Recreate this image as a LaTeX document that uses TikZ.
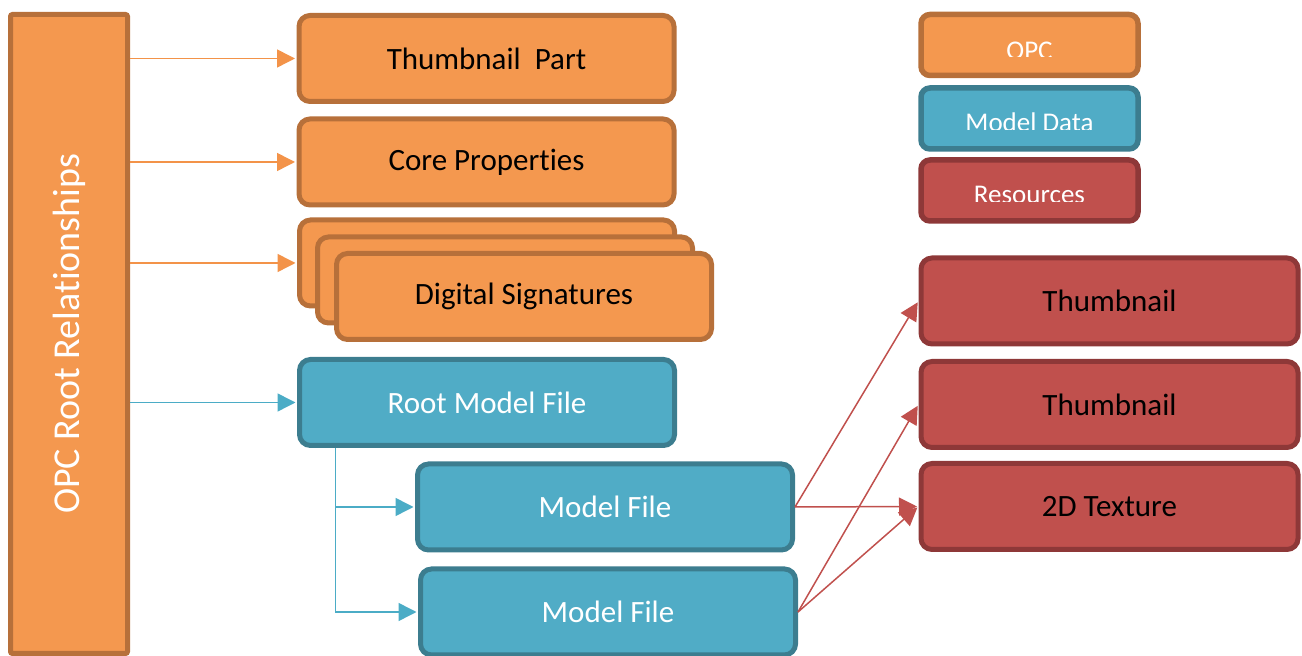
\documentclass[tikz,border=0pt]{standalone}
\usepackage{fontspec}
\setmainfont{Carlito}[Ligatures={NoCommon,NoRare}]
\usetikzlibrary{arrows.meta}
\definecolor{orfill}{HTML}{F4984F}
\definecolor{ordraw}{HTML}{B7703A}
\definecolor{orline}{HTML}{F39349}
\definecolor{blfill}{HTML}{50ACC6}
\definecolor{bldraw}{HTML}{3C7D8F}
\definecolor{blline}{HTML}{4BACC6}
\definecolor{rdfill}{HTML}{C0504D}
\definecolor{rddraw}{HTML}{8E3838}
\definecolor{rdline}{HTML}{C0504D}
\begin{document}
\begin{tikzpicture}[x=1pt,y=1pt,
  box/.style={rounded corners=11pt, line width=5pt, minimum width=375pt,
    minimum height=86pt, inner sep=0pt, font=\fontsize{31}{37}\selectfont},
  opcbox/.style={box, fill=orfill, draw=ordraw, text=black},
  mdlbox/.style={box, fill=blfill, draw=bldraw, text=white},
  resbox/.style={box, fill=rdfill, draw=rddraw, text=black, minimum width=377pt},
  legbox/.style={rounded corners=9pt, line width=5.5pt, minimum width=217pt,
    minimum height=61pt, inner sep=0pt},
  legtext/.style={anchor=base, text=white, inner sep=0pt, font=\fontsize{27}{32}\selectfont},
  conn/.style={line width=1.5pt, -{Triangle[length=18pt,width=18pt]}, shorten >=1.5pt},
]
\useasboundingbox (0,0) rectangle (1302,656);

% left bar (rotated: its south side faces right)
\node[fill=orfill, draw=ordraw, line width=5pt, rounded corners=2pt,
  minimum width=639pt, minimum height=117pt, inner sep=0pt,
  text=white, rotate=90, font=\fontsize{38}{44}\selectfont]
  (bar) at (69,322) {OPC Root Relationships};

% OPC parts
\node[opcbox] (tp) at (486.5,597.5) {Thumbnail~~Part};
\node[opcbox] (cp) at (486.5,494) {Core Properties};
\node[opcbox] (ds1) at (487,393) {};
\node[opcbox] (ds2) at (505,376) {};
\node[opcbox] (ds3) at (524,359.5) {Digital Signatures};

% model data
\node[mdlbox] (rmf) at (487,253.5) {Root Model File};
\node[mdlbox] (mf1) at (605,149) {Model File};
\node[mdlbox] (mf2) at (608,44) {Model File};

% resources
\node[resbox] (r1) at (1109.5,355) {Thumbnail};
\node[resbox] (r2) at (1109.5,251.5) {Thumbnail};
\node[resbox] (r3) at (1109.5,149.5) {2D Texture};

% legend
\node[legbox, fill=orfill, draw=ordraw] (lg1) at (1029.5,611) {};
\node[legbox, fill=blfill, draw=bldraw] (lg2) at (1029.5,537.5) {};
\node[legbox, fill=rdfill, draw=rddraw] (lg3) at (1029.5,465.5) {};
\begin{scope}
  \clip (918,599) rectangle (1141,656);
  \node[legtext] (lt1) at (1029.5,596) {OPC};
\end{scope}
\begin{scope}
  \clip (918,526.5) rectangle (1141,580);
  \node[legtext] (lt2) at (1029.5,524.5) {Model Data};
\end{scope}
\begin{scope}
  \clip (918,454.5) rectangle (1141,500);
  \node[legtext] (lt3) at (1029.5,452.5) {Resources};
\end{scope}

% connectors
\draw[conn, orline] (bar.south |- tp.west) -- (tp.west);
\draw[conn, orline] (bar.south |- cp.west) -- (cp.west);
\draw[conn, orline] (bar.south |- ds1.west) -- (ds1.west);
\draw[conn, blline] (bar.south |- rmf.west) -- (rmf.west);
\coordinate (br) at ([xshift=38.5pt]rmf.south west);
\draw[conn, blline] (br) |- (mf1.west);
\draw[conn, blline] (br) |- (mf2.west);
\draw[conn, rdline] (mf1.east) -- (r1.west);
\draw[conn, rdline] (mf1.east) -- (r3.west);
\draw[conn, rdline] (mf2.east) -- (r2.west);
\draw[conn, rdline] (mf2.east) -- (r3.west);
\end{tikzpicture}
\end{document}
